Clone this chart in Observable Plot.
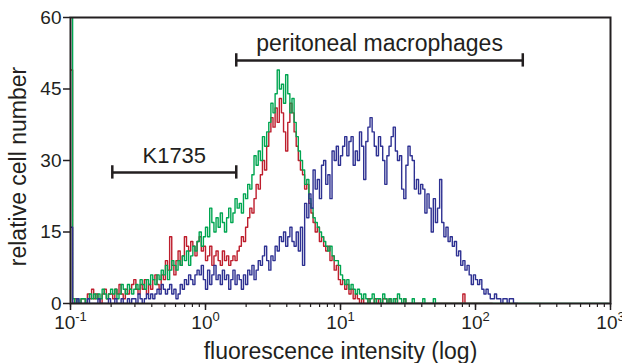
<!DOCTYPE html>
<html><head><meta charset="utf-8">
<script src="https://cdn.jsdelivr.net/npm/d3@7"></script>
<script src="https://cdn.jsdelivr.net/npm/@observablehq/plot@0.6"></script>
<style>body{margin:0;background:#fff}</style>
</head><body><div id="chart"></div>
<script>
// Histogram counts per channel (256 channels over 4 log decades, 0.1 .. 1000)
const redCounts = [
  49,
  0,1,0,0,1,1,0,2,1,
  3,1,2,1,0,2,3,1,2,2,
  1,3,2,4,2,1,3,2,3,4,
  5,3,2,4,3,5,2,4,3,5,
  6,4,3,6,5,9,7,14,8,6,
  9,11,8,10,14,12,11,13,12,10,
  13,14,11,12,9,10,12,8,10,11,
  9,8,11,9,10,8,9,10,9,11,
  12,14,13,16,18,20,19,22,25,24,
  27,30,28,33,36,39,37,41,38,43,
  40,36,32,38,42,40,36,33,30,28,
  27,24,25,21,19,17,15,16,13,14,
  12,11,12,9,10,7,8,5,4,5,
  3,4,2,3,1,2,1,0,1,0,
  0,1,0,0,1,0,1,0,1,1,0,1,0,0,1,0,0,0,1,0,
  0,0,0,0,0,0,0,0,0,0,0,0,0,0,0,0,0,0,0,0,
  0,0,0,0,0,0,2,0,0,0,
  0,0,0,0,0,0,0,0,0,0,0
];
const greenCounts = [
  80,
  1,0,1,0,1,1,0,1,2,
  1,2,1,2,1,3,2,1,2,3,
  2,3,1,2,4,3,2,4,3,2,
  3,4,3,5,4,3,5,4,6,5,
  4,6,5,7,6,8,5,7,9,8,
  7,9,8,10,9,11,8,10,12,11,
  13,15,12,14,16,14,20,17,15,18,
  16,19,17,15,18,20,17,19,22,20,
  21,19,23,22,25,24,27,31,29,32,
  30,35,33,36,38,42,40,44,49,45,
  46,42,48,44,40,43,38,35,32,30,
  28,25,26,22,20,18,17,16,15,14,
  13,12,11,12,10,9,9,8,6,5,
  4,5,3,4,3,2,3,2,1,2,
  1,0,1,2,0,1,1,0,2,1,0,1,0,1,0,2,1,0,1,0,
  0,0,1,0,0,0,0,1,0,0,0,0,1,0,0,0,
  0,0,0,0,0,0,0,0,0,0,0,0,0,0,0,0,0,0,0,0,
  0,0,0,0,0,0,0,0,0,0,0,0,0,0,0,0,0,0,0,0,
  0,0,0,0,0,0,0,0,0,0,0,0,0,0,0,0,0,0,0,0,
  0,0,0,0,0,0,0,0,0,0,0,0,0,0,0,0,0,0,0,0
];
const blueCounts = [
  16,
  0,0,1,0,0,0,0,1,0,
  0,0,0,1,0,0,0,0,1,0,
  0,1,0,0,1,0,0,1,0,1,
  1,0,2,1,0,1,2,1,2,1,
  2,3,2,4,3,2,3,4,2,3,
  1,2,4,3,5,4,6,5,4,6,
  7,6,8,5,3,7,4,6,8,5,
  6,4,7,5,6,3,5,7,4,6,
  5,3,6,4,7,6,8,5,7,9,
  8,10,12,9,7,10,9,12,11,14,
  13,15,12,14,16,13,12,15,11,16,
  8,21,18,23,20,28,24,26,22,29,
  30,25,27,22,32,30,33,29,31,33,
  35,31,34,35,29,32,30,36,33,26,
  34,37,39,36,33,31,35,33,30,25,
  31,33,35,37,32,30,31,24,22,29,
  33,31,30,24,26,23,25,24,19,23,
  20,15,22,17,20,26,17,14,16,13,
  14,12,13,10,11,8,9,7,8,6,
  4,6,5,4,5,3,2,3,2,1,
  1,2,1,1,0,1,1,0,1,1,0,0,0
];

const majorTicks = [0.1, 1, 10, 100, 1000];
const majorTickLabels = ["10^-1", "10^0", "10^1", "10^2", "10^3"];
const yTicks = [0, 15, 30, 45, 60];

const bracketLabels = ["K1735", "peritoneal macrophages"];
const bracketStart = [0.204, 1.69];
const bracketEnd = [1.69, 224];
const bracketLevel = [27.5, 51];
const bracketFontSize = [22, 23];

const channelToIntensity = c => 10 ** (c / 64 - 1);
const toRows = counts => counts.map((count, ch) => ({fl: channelToIntensity(ch), count}));
const brackets = bracketLabels.map((label, i) => ({
  label, x1: bracketStart[i], x2: bracketEnd[i], y: bracketLevel[i],
  mid: Math.sqrt(bracketStart[i] * bracketEnd[i]), size: bracketFontSize[i]
}));

const ink = "#231f20";
const font = '"Liberation Sans", Arial, Helvetica, sans-serif';
const lineOpts = {x: "fl", y: "count", curve: "step-after", strokeWidth: 1.4, clip: true};

const chart = Plot.plot({
  width: 622, height: 363,
  marginLeft: 70, marginRight: 12, marginTop: 17, marginBottom: 60,
  style: {fontFamily: font, fontSize: "19px", color: ink, background: "#fff"},
  x: {type: "log", domain: [0.1, 1000], label: null},
  y: {domain: [0, 60], label: null},
  marks: [
    Plot.line(toRows(redCounts), {...lineOpts, stroke: "#be1e2d"}),
    Plot.line(toRows(greenCounts), {...lineOpts, stroke: "#00a651"}),
    Plot.line(toRows(blueCounts), {...lineOpts, stroke: "#2e3192"}),
    Plot.frame({stroke: ink, strokeWidth: 2}),
    Plot.axisX(d3.scaleLog().domain([0.1, 1000]).ticks(), {tickSize: 4, tickFormat: () => "", stroke: ink, strokeWidth: 1.2, label: null}),
    Plot.axisX(majorTicks, {tickSize: 7, tickPadding: 5, tickFormat: d => majorTickLabels[majorTicks.indexOf(d)], stroke: ink, strokeWidth: 1.5, fontSize: 19, label: null}),
    Plot.axisY(yTicks, {tickSize: 7, tickPadding: 2, stroke: ink, strokeWidth: 1.5, fontSize: 19, label: null}),
    Plot.ruleY(brackets, {x1: "x1", x2: "x2", y: "y", stroke: ink, strokeWidth: 2.5}),
    Plot.ruleX(brackets, {x: "x1", y1: d => d.y - 1.4, y2: d => d.y + 1.4, stroke: ink, strokeWidth: 2.5}),
    Plot.ruleX(brackets, {x: "x2", y1: d => d.y - 1.4, y2: d => d.y + 1.4, stroke: ink, strokeWidth: 2.5}),
    Plot.text(brackets, {x: "mid", y: "y", text: "label", textAnchor: "middle", lineAnchor: "bottom", dy: -9, fontSize: "size", fill: ink}),
    Plot.text(["fluorescence intensity (log)"], {frameAnchor: "bottom", textAnchor: "middle", lineAnchor: "bottom", dy: 55, fontSize: 23, fill: ink}),
    Plot.text(["relative cell number"], {frameAnchor: "left", textAnchor: "middle", lineAnchor: "bottom", rotate: -90, dx: -45, dy: 6, fontSize: 23, fill: ink})
  ]
});

d3.select(chart).selectAll('g[aria-label="x-axis tick label"] text').each(function() {
  const t = this.textContent;
  if (!t.includes("^")) return;
  const [base, exp] = t.split("^");
  this.textContent = base;
  d3.select(this).append("tspan").attr("dy", -8.5).attr("font-size", 13).text(exp);
});

document.getElementById("chart").appendChild(chart);
</script>
</body></html>
